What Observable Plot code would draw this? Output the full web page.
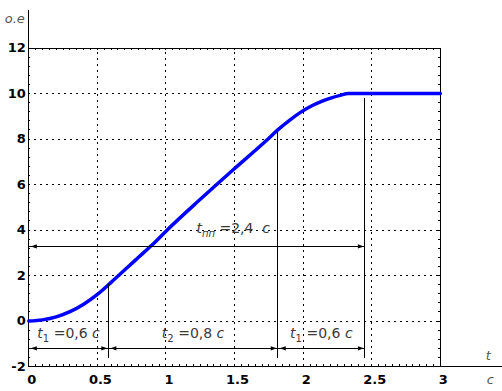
<!DOCTYPE html>
<html><head><meta charset="utf-8">
<script src="https://cdn.jsdelivr.net/npm/d3@7"></script>
<script src="https://cdn.jsdelivr.net/npm/@observablehq/plot@0.6"></script>
<style>body{margin:0;background:#fff;} #chart svg{display:block;}</style>
</head><body><div id="chart"></div>
<script>
// ---- data ----
const timeS = [0, 0.1, 0.2, 0.3, 0.4, 0.5, 0.6, 0.7, 0.8, 0.9, 1.0, 1.25, 1.49, 1.74, 1.815, 1.9, 1.98, 2.06, 2.13, 2.2, 2.27, 2.33, 2.5, 3];
const responseOE = [0, 0.05, 0.18, 0.41, 0.74, 1.17, 1.7, 2.25, 2.8, 3.35, 3.95, 5.35, 6.65, 7.98, 8.4, 8.82, 9.17, 9.45, 9.64, 9.8, 9.92, 10, 10, 10];

const xTicks = [0, 0.5, 1, 1.5, 2, 2.5, 3];
const xTickLabels = ["0", "0.5", "1", "1.5", "2", "2.5", "3"];
const xGrid = [0.5, 1, 1.5, 2, 2.5];
const yTicks = [-2, 0, 2, 4, 6, 8, 10, 12];
const yTickLabels = ["-2", "0", "2", "4", "6", "8", "10", "12"];
const yGrid = [0, 2, 4, 6, 8, 10];

const markerTimes = [0.58, 1.815, 2.45];
const markerTops = [1.6, 8.3, 9.77];
const markerBottom = -1.66;

const phaseStarts = [0, 0.58, 1.815];
const phaseEnds = [0.58, 1.815, 2.45];
const phaseSubs = ["1", "2", "1"];
const phaseValues = ["=0,6", "=0,8", "=0,6"];
const phaseArrowY = -1.2;
const phaseLabelY = -0.55;

const totalStart = 0, totalEnd = 2.45, totalArrowY = 3.28;
const totalLabelX = 1.49, totalLabelY = 4.06;
const totalSub = "пп", totalValue = "=2,4";
const unitLabel = "c";

const axisNames = [
  {x: 0, y: 13.3, text: "o.e"},
  {x: 3.35, y: -1.52, text: "t"},
  {x: 3.365, y: -2.57, text: "c"}
];

// ---- derived tables ----
const curve = timeS.map((t, i) => ({t, v: responseOE[i]}));
const markers = markerTimes.map((t, i) => ({t, top: markerTops[i]}));
const arrows = phaseStarts.map((s, i) => ({a: s, b: phaseEnds[i], y: phaseArrowY}))
  .concat([{a: totalStart, b: totalEnd, y: totalArrowY}]);
const labels = phaseStarts.map((s, i) => ({x: (s + phaseEnds[i]) / 2, y: phaseLabelY, sub: phaseSubs[i], val: phaseValues[i], gap: " ", gap2: " ", subItalic: false}))
  .concat([{x: totalLabelX, y: totalLabelY, sub: totalSub, val: totalValue, gap: " ", gap2: "  ", subItalic: true}]);

const X_MAX = 3.453, Y_MAX = 13.65, Y_MIN = -2;
const minorX = d3.range(0, 3.0001, 0.05);
const minorY = d3.range(-2, 12.0001, 0.4);

const headRight = {draw(ctx, size) { const l = Math.sqrt(size); ctx.moveTo(0, 0); ctx.lineTo(-l, -l * 0.36); ctx.lineTo(-l, l * 0.36); ctx.closePath(); }};
const headLeft = {draw(ctx, size) { const l = Math.sqrt(size); ctx.moveTo(0, 0); ctx.lineTo(l, -l * 0.36); ctx.lineTo(l, l * 0.36); ctx.closePath(); }};

const chart = Plot.plot({
  width: 502,
  height: 391,
  marginLeft: 28.3,
  marginRight: 0,
  marginTop: 10,
  marginBottom: 25,
  style: {fontFamily: "DejaVu Sans", fontSize: "13px", background: "#fff", color: "#000"},
  x: {domain: [0, X_MAX], axis: null},
  y: {domain: [Y_MIN, Y_MAX], axis: null},
  marks: [
    // dotted grid
    Plot.ruleX(xGrid, {y1: Y_MIN, y2: 12, stroke: "#000", strokeDasharray: "2,4", shapeRendering: "crispEdges"}),
    Plot.ruleY(yGrid, {x1: 0, x2: 3, stroke: "#000", strokeDasharray: "2,4", shapeRendering: "crispEdges"}),
    // frame
    Plot.ruleY([12], {x1: 0, x2: 3, stroke: "#000", shapeRendering: "crispEdges"}),
    Plot.ruleX([3], {y1: Y_MIN, y2: 12, stroke: "#000", shapeRendering: "crispEdges"}),
    // minor ticks
    Plot.ruleX(minorX, {y1: Y_MIN, y2: Y_MIN, insetTop: -2, stroke: "#000", shapeRendering: "crispEdges"}),
    Plot.ruleX(minorX, {y1: 12, y2: 12, insetBottom: -2, stroke: "#000", shapeRendering: "crispEdges"}),
    Plot.ruleY(minorY, {x1: 0, x2: 0, insetRight: -2, stroke: "#000", shapeRendering: "crispEdges"}),
    Plot.ruleY(minorY, {x1: 3, x2: 3, insetLeft: -2, stroke: "#000", shapeRendering: "crispEdges"}),
    // main axes
    Plot.ruleX([0], {y1: Y_MIN, y2: Y_MAX, stroke: "#000", shapeRendering: "crispEdges"}),
    Plot.ruleY([Y_MIN], {x1: 0, x2: X_MAX, stroke: "#000", shapeRendering: "crispEdges"}),
    // response curve
    Plot.line(curve, {x: "t", y: "v", stroke: "#0000ff", strokeWidth: 3.5, curve: "monotone-x"}),
    // marker verticals
    Plot.ruleX(markers, {x: "t", y1: markerBottom, y2: "top", stroke: "#000", shapeRendering: "crispEdges"}),
    // dimension arrows
    Plot.ruleY(arrows, {y: "y", x1: "a", x2: "b", stroke: "#000", shapeRendering: "crispEdges"}),
    Plot.dot(arrows, {x: "b", y: "y", symbol: headRight, r: 3.4, fill: "#000", stroke: "none", dx: -1}),
    Plot.dot(arrows, {x: "a", y: "y", symbol: headLeft, r: 3.4, fill: "#000", stroke: "none", dx: 2}),
    // tick labels
    Plot.text(xTicks, {x: d => d, y: Y_MIN, text: (d, i) => xTickLabels[i], dy: 13, dx: 3, fontWeight: "bold", fill: "#000"}),
    Plot.text(yTicks, {x: 0, y: d => d, text: (d, i) => yTickLabels[i], textAnchor: "end", dx: -3, fontWeight: "bold", fill: "#000"}),
    // axis names
    Plot.text(axisNames, {x: "x", y: "y", text: "text", fontStyle: "italic", fill: "#555", textAnchor: "middle"}),
    // annotations (rebuilt with subscripts below)
    Plot.text(labels, {x: "x", y: "y", text: d => "t" + d.sub + d.gap + d.val + d.gap2 + unitLabel, fontSize: 14, fill: "#3a3a3a", ariaDescription: "annotation"})
  ]
});

document.getElementById("chart").appendChild(chart);

// rebuild annotation texts with subscripts
d3.select(chart).selectAll('g[aria-description="annotation"] text').each(function(_, i) {
  const d = labels[i];
  const el = d3.select(this);
  el.text(null);
  el.append("tspan").attr("font-style", "italic").text("t");
  el.append("tspan").attr("font-size", 10).attr("dy", 4).attr("font-style", d.subItalic ? "italic" : "normal").text(d.sub);
  el.append("tspan").attr("dy", -4).text(d.gap + d.val + d.gap2);
  el.append("tspan").attr("font-style", "italic").text(unitLabel);
});
// "o.e" sits left of the axis
d3.select(chart).selectAll("text").filter(function() { return this.textContent === "o.e"; })
  .attr("text-anchor", "end").attr("dx", -4);
</script>
</body></html>
